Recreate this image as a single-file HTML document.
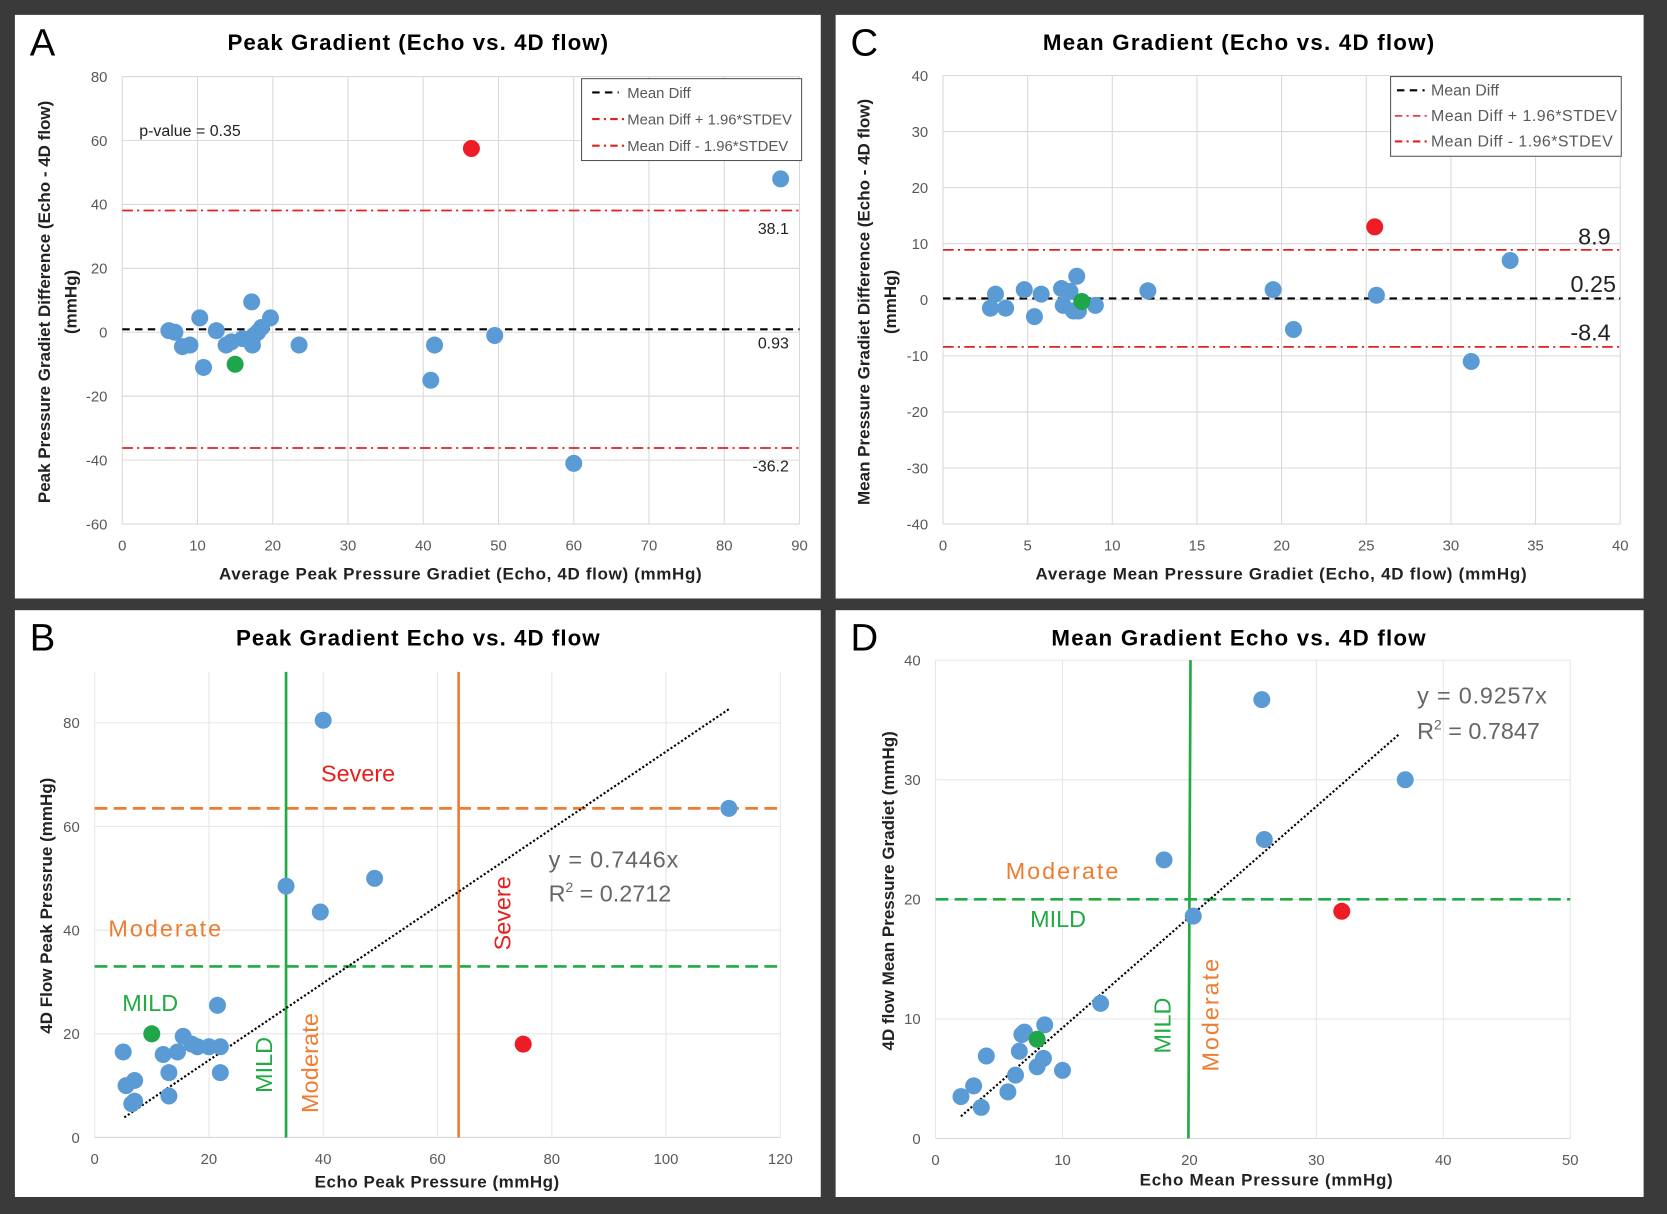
<!DOCTYPE html>
<html><head><meta charset="utf-8">
<style>
html,body{margin:0;padding:0;background:#3a3a3a;}
svg{display:block;font-family:"Liberation Sans",sans-serif;}
</style></head>
<body>
<svg id="fig" width="1667" height="1214" viewBox="0 0 1568 1142" preserveAspectRatio="none" xmlns="http://www.w3.org/2000/svg">
<rect x="0" y="0" width="1568" height="1142" fill="#3a3a3a"/>
<rect x="14" y="14" width="758" height="549" fill="#fff"/>
<rect x="786" y="14" width="760" height="549" fill="#fff"/>
<rect x="14" y="574" width="758" height="552" fill="#fff"/>
<rect x="786" y="574" width="760" height="552" fill="#fff"/>
<g id="layer"></g>
</svg>
<script>
// Panel A data
const aX=[6.2,7,8,9,10.3,10.8,12.5,13.8,14.5,16,17.2,17.3,17.5,18,18.5,19.7,23.5,41,41.5,49.5,60,87.5];
const aY=[0.5,0,-4.5,-4,4.5,-11,0.5,-4,-3,-2,9.5,-4,-1,0,1.5,4.5,-4,-15,-4,-1,-41,48];
const aRed=[46.4,57.5], aGreen=[15,-10];
const aLines=[0.93,38.1,-36.2];
const aXTicks=[0,10,20,30,40,50,60,70,80,90];
const aYTicks=[-60,-40,-20,0,20,40,60,80];
// Panel C data
const cX=[2.8,3.1,3.7,4.8,5.4,5.8,7,7.1,7.5,7.7,7.9,8,9,12.1,19.5,20.7,25.6,31.2,33.5];
const cY=[-1.5,1,-1.5,1.8,-3,1,2,-1,1.5,-2,4.2,-2,-1,1.6,1.8,-5.3,0.8,-11,7];
const cRed=[25.5,13], cGreen=[8.2,-0.3];
const cLines=[0.25,8.9,-8.4];
const cXTicks=[0,5,10,15,20,25,30,35,40];
const cYTicks=[-40,-30,-20,-10,0,10,20,30,40];
// Panel B data
const bX=[5,5.5,6.5,7,7,12,13,13,14.5,15.5,17,18,20,21.5,22,22,33.5,39.5,40,49,111];
const bY=[16.5,10,6.5,11,7,16,12.5,8,16.5,19.5,18,17.5,17.5,25.5,17.5,12.5,48.5,43.5,80.5,50,63.5];
const bRed=[75,18], bGreen=[10,20];
const bSlope=0.7446, bFit=[5.2,111];
const bXTicks=[0,20,40,60,80,100,120];
const bYTicks=[0,20,40,60,80];
// Panel D data
const dX=[2,3,3.6,4,5.7,6.3,6.6,6.8,7,8,8.5,8.6,10,13,18,20.3,25.7,25.9,37];
const dY=[3.5,4.4,2.6,6.9,3.9,5.3,7.3,8.7,8.9,6,6.7,9.5,5.7,11.3,23.3,18.6,36.7,25,30];
const dRed=[32,19], dGreen=[8,8.3];
const dSlope=0.9257, dFit=[2,36.5];
const dXTicks=[0,10,20,30,40,50];
const dYTicks=[0,10,20,30,40];

const NS="http://www.w3.org/2000/svg";
const L=document.getElementById('layer');
function el(tag,attrs,name,txt){const e=document.createElementNS(NS,tag);for(const k in attrs)e.setAttribute(k,attrs[k]);


if(txt!==undefined)e.textContent=txt;L.appendChild(e);return e;}
function scale(d0,d1,p0,p1){return v=>p0+(v-d0)*(p1-p0)/(d1-d0);}
function text(x,y,s,opt,name){return el('text',Object.assign({x:x,y:y,'font-size':14,fill:'#595959'},opt||{}),name,s);}

function axes(sx,sy,xt,yt,x0,x1,y0,y1,prefix,gridColor){
  yt.forEach(v=>{el('line',{x1:x0,x2:x1,y1:sy(v),y2:sy(v),stroke:gridColor,'stroke-width':1},prefix+'-y-grid');
    text(x0-14,sy(v)+5,String(v),{'text-anchor':'end'},prefix+'-y-tick');});
  xt.forEach(v=>{el('line',{x1:sx(v),x2:sx(v),y1:y0,y2:y1,stroke:gridColor,'stroke-width':1},prefix+'-x-grid');
    text(sx(v),y1+25,String(v),{'text-anchor':'middle'},prefix+'-x-tick');});
}
function dots(sx,sy,xs,ys,prefix){xs.forEach((x,i)=>el('circle',{cx:sx(x),cy:sy(ys[i]),r:8,fill:'#5b9bd5'},prefix+'-point'));}
function dot(sx,sy,p,c,name){el('circle',{cx:sx(p[0]),cy:sy(p[1]),r:8,fill:c},name);}
const TB={fill:'#000','font-size':21,'font-weight':'bold','text-anchor':'middle'};

// ===== Panel A =====
{const sx=scale(0,90,115,752), sy=scale(-60,80,493,72);
axes(sx,sy,aXTicks,aYTicks,115,752,72,493,'a','#d9d9d9');
el('line',{x1:115,x2:752,y1:sy(aLines[0]),y2:sy(aLines[0]),stroke:'#000','stroke-width':2,'stroke-dasharray':'7,5'},'a-mean-diff-line');
[1,2].forEach(i=>el('line',{x1:115,x2:752,y1:sy(aLines[i]),y2:sy(aLines[i]),stroke:'#e02020','stroke-width':1.6,'stroke-dasharray':'10,4,2,4'},'a-limit-line'));
dots(sx,sy,aX,aY,'a');dot(sx,sy,aRed,'#ee1c24','a-red-point');dot(sx,sy,aGreen,'#1fa64a','a-green-point');
text(742,sy(aLines[0])+18,String(aLines[0]),{'text-anchor':'end',fill:'#222',"font-size":15},'a-mean-label');
text(742,sy(aLines[1])+22,String(aLines[1]),{'text-anchor':'end',fill:'#222',"font-size":15},'a-upper-label');
text(742,sy(aLines[2])+22,String(aLines[2]),{'text-anchor':'end',fill:'#222',"font-size":15},'a-lower-label');
text(131,128,'p-value = 0.35',{fill:'#222','font-size':15},'a-p-value');
el('rect',{x:547,y:74,width:207,height:77,fill:'#fff',stroke:'#555','stroke-width':1},'a-legend');
el('line',{x1:557,x2:582,y1:87,y2:87,stroke:'#000','stroke-width':2,'stroke-dasharray':'7,5'},'a-legend-mean-swatch');
el('line',{x1:557,x2:588,y1:112,y2:112,stroke:'#e02020','stroke-width':2,'stroke-dasharray':'7,4,2,4'},'a-legend-upper-swatch');
el('line',{x1:557,x2:588,y1:137,y2:137,stroke:'#e02020','stroke-width':2,'stroke-dasharray':'7,4,2,4'},'a-legend-lower-swatch');
text(590,92,'Mean Diff',{'font-size':14},'a-legend-mean');
text(590,117,'Mean Diff + 1.96*STDEV',{'font-size':14},'a-legend-upper');
text(590,142,'Mean Diff - 1.96*STDEV',{'font-size':14},'a-legend-lower');
text(393,47,'Peak Gradient (Echo vs. 4D flow)',Object.assign({textLength:358},TB),'a-title');
text(28,52,'A',{fill:'#000','font-size':36},'a-panel-letter');
text(433,545,'Average Peak Pressure Gradiet (Echo, 4D flow) (mmHg)',{'text-anchor':'middle',fill:'#222','font-size':16,'font-weight':'bold',textLength:454},'a-x-axis-title');
el('text',{x:0,y:0,transform:'translate(47,284) rotate(-90)','text-anchor':'middle','font-size':16,'font-weight':'bold',fill:'#222'},'a-y-axis-title','Peak Pressure Gradiet Difference (Echo - 4D flow)');
el('text',{x:0,y:0,transform:'translate(72,284) rotate(-90)','text-anchor':'middle','font-size':16,'font-weight':'bold',fill:'#222'},'a-y-axis-unit','(mmHg)');
}
// ===== Panel C =====
{const sx=scale(0,40,887,1524), sy=scale(-40,40,493,71);
axes(sx,sy,cXTicks,cYTicks,887,1524,71,493,'c','#d9d9d9');
el('line',{x1:887,x2:1524,y1:sy(cLines[0]),y2:sy(cLines[0]),stroke:'#000','stroke-width':2,'stroke-dasharray':'7,5'},'c-mean-diff-line');
[1,2].forEach(i=>el('line',{x1:887,x2:1524,y1:sy(cLines[i]),y2:sy(cLines[i]),stroke:'#e02020','stroke-width':1.6,'stroke-dasharray':'10,4,2,4'},'c-limit-line'));
dots(sx,sy,cX,cY,'c');dot(sx,sy,cRed,'#ee1c24','c-red-point');dot(sx,sy,cGreen,'#1fa64a','c-green-point');
text(1515,sy(cLines[1])-5,String(cLines[1]),{'text-anchor':'end',fill:'#222','font-size':22},'c-upper-label');
text(1520,sy(cLines[0])-6,String(cLines[0]),{'text-anchor':'end',fill:'#222','font-size':22},'c-mean-label');
text(1515,sy(cLines[2])-6,String(cLines[2]),{'text-anchor':'end',fill:'#222','font-size':22},'c-lower-label');
el('rect',{x:1308,y:72,width:217,height:75,fill:'#fff',stroke:'#555','stroke-width':1},'c-legend');
el('line',{x1:1314,x2:1340,y1:85,y2:85,stroke:'#000','stroke-width':2,'stroke-dasharray':'7,5'},'c-legend-mean-swatch');
el('line',{x1:1312,x2:1344,y1:109,y2:109,stroke:'#e02020','stroke-width':1.5,'stroke-dasharray':'7,4,2,4'},'c-legend-upper-swatch');
el('line',{x1:1312,x2:1344,y1:133,y2:133,stroke:'#e02020','stroke-width':2,'stroke-dasharray':'7,4,2,4'},'c-legend-lower-swatch');
text(1346,90,'Mean Diff',{'font-size':15},'c-legend-mean');
text(1346,114,'Mean Diff + 1.96*STDEV',{'font-size':15,textLength:175},'c-legend-upper');
text(1346,138,'Mean Diff - 1.96*STDEV',{'font-size':15,textLength:171},'c-legend-lower');
text(1165,47,'Mean Gradient (Echo vs. 4D flow)',Object.assign({textLength:368},TB),'c-title');
text(800,52,'C',{fill:'#000','font-size':36},'c-panel-letter');
text(1205,545,'Average Mean Pressure Gradiet (Echo, 4D flow) (mmHg)',{'text-anchor':'middle',fill:'#222','font-size':16,'font-weight':'bold',textLength:462},'c-x-axis-title');
el('text',{x:0,y:0,transform:'translate(818,284) rotate(-90)','text-anchor':'middle','font-size':16,'font-weight':'bold',fill:'#222'},'c-y-axis-title','Mean Pressure Gradiet Difference (Echo - 4D flow)');
el('text',{x:0,y:0,transform:'translate(843,284) rotate(-90)','text-anchor':'middle','font-size':16,'font-weight':'bold',fill:'#222'},'c-y-axis-unit','(mmHg)');
}
// ===== Panel B =====
{const sx=scale(0,120,89,734), sy=scale(0,80,1070,680);
axes(sx,sy,bXTicks,bYTicks,89,734,632,1070,'b','#e6e6e6');
el('line',{x1:89,x2:734,y1:1070,y2:1070,stroke:'#d9d9d9','stroke-width':1},'b-x-axis-line');
el('line',{x1:89,x2:734,y1:sy(63.5),y2:sy(63.5),stroke:'#ed7d31','stroke-width':2.5,'stroke-dasharray':'12,6'},'b-severe-horizontal-line');
el('line',{x1:89,x2:734,y1:sy(33),y2:sy(33),stroke:'#22aa44','stroke-width':2.5,'stroke-dasharray':'12,6'},'b-mild-horizontal-line');
el('line',{x1:sx(33.5),x2:sx(33.5),y1:632,y2:1070,stroke:'#22aa44','stroke-width':2.5},'b-mild-vertical-line');
el('line',{x1:sx(63.7),x2:sx(63.7),y1:632,y2:1070,stroke:'#ed7d31','stroke-width':2.5},'b-severe-vertical-line');
el('line',{x1:sx(bFit[0]),y1:sy(bSlope*bFit[0]),x2:sx(bFit[1]),y2:sy(bSlope*bFit[1]),stroke:'#000','stroke-width':2,'stroke-dasharray':'2,2'},'b-trendline');
dots(sx,sy,bX,bY,'b');dot(sx,sy,bRed,'#ee1c24','b-red-point');dot(sx,sy,bGreen,'#1fa64a','b-green-point');
text(516,816,'y = 0.7446x',{'font-size':22,fill:'#666',textLength:122},'b-equation');
const r=text(516,848,'',{'font-size':22,fill:'#666'},'b-r-squared');
r.innerHTML='R<tspan dy="-9" font-size="13">2</tspan><tspan dy="9"> = 0.2712</tspan>';
text(302,735,'Severe',{'font-size':22,fill:'#e8201c'},'b-severe-label');
text(102,881,'Moderate',{'font-size':22,fill:'#ed7d31',textLength:106},'b-moderate-label');
text(115,951,'MILD',{'font-size':22,fill:'#22aa44'},'b-mild-label');
el('text',{x:0,y:0,transform:'translate(480,894) rotate(-90)','font-size':22,fill:'#e8201c'},'b-severe-vertical-label','Severe');
el('text',{x:0,y:0,transform:'translate(299,1047) rotate(-90)','font-size':22,fill:'#ed7d31',textLength:94},'b-moderate-vertical-label','Moderate');
el('text',{x:0,y:0,transform:'translate(256,1028) rotate(-90)','font-size':22,fill:'#22aa44'},'b-mild-vertical-label','MILD');
text(393,607,'Peak Gradient Echo vs. 4D flow',Object.assign({textLength:342},TB),'b-title');
text(28,612,'B',{fill:'#000','font-size':36},'b-panel-letter');
text(411,1117,'Echo Peak Pressure (mmHg)',{'text-anchor':'middle',fill:'#222','font-size':16,'font-weight':'bold',textLength:230},'b-x-axis-title');
el('text',{x:0,y:0,transform:'translate(49,852) rotate(-90)','text-anchor':'middle','font-size':16,'font-weight':'bold',fill:'#222'},'b-y-axis-title','4D Flow Peak Pressrue (mmHg)');
}
// ===== Panel D =====
{const sx=scale(0,50,880,1477), sy=scale(0,40,1071,621);
axes(sx,sy,dXTicks,dYTicks,880,1477,621,1071,'d','#e6e6e6');
el('line',{x1:880,x2:1477,y1:1071,y2:1071,stroke:'#d9d9d9','stroke-width':1},'d-x-axis-line');
el('line',{x1:880,x2:1477,y1:sy(20),y2:sy(20),stroke:'#22aa44','stroke-width':2.5,'stroke-dasharray':'12,6'},'d-mild-horizontal-line');
el('line',{x1:sx(20)+1,x2:sx(20)-1,y1:621,y2:1071,stroke:'#22aa44','stroke-width':2.5},'d-mild-vertical-line');
el('line',{x1:sx(dFit[0]),y1:sy(dSlope*dFit[0]),x2:sx(dFit[1]),y2:sy(dSlope*dFit[1]),stroke:'#000','stroke-width':2,'stroke-dasharray':'2,2'},'d-trendline');
dots(sx,sy,dX,dY,'d');dot(sx,sy,dRed,'#ee1c24','d-red-point');dot(sx,sy,dGreen,'#1fa64a','d-green-point');
text(1333,662,'y = 0.9257x',{'font-size':22,fill:'#666',textLength:122},'d-equation');
const r=text(1333,695,'',{'font-size':22,fill:'#666'},'d-r-squared');
r.innerHTML='R<tspan dy="-9" font-size="13">2</tspan><tspan dy="9"> = 0.7847</tspan>';
text(946,827,'Moderate',{'font-size':22,fill:'#ed7d31',textLength:106},'d-moderate-label');
text(969,872,'MILD',{'font-size':22,fill:'#22aa44'},'d-mild-label');
el('text',{x:0,y:0,transform:'translate(1101,991) rotate(-90)','font-size':22,fill:'#22aa44'},'d-mild-vertical-label','MILD');
el('text',{x:0,y:0,transform:'translate(1146,1008) rotate(-90)','font-size':22,fill:'#ed7d31',textLength:106},'d-moderate-vertical-label','Moderate');
text(1165,607,'Mean Gradient Echo vs. 4D flow',Object.assign({textLength:352},TB),'d-title');
text(800,612,'D',{fill:'#000','font-size':36},'d-panel-letter');
text(1191,1115,'Echo Mean Pressure (mmHg)',{'text-anchor':'middle',fill:'#222','font-size':16,'font-weight':'bold',textLength:238},'d-x-axis-title');
el('text',{x:0,y:0,transform:'translate(841,838) rotate(-90)','text-anchor':'middle','font-size':16,'font-weight':'bold',fill:'#222'},'d-y-axis-title','4D flow Mean Pressure Gradiet (mmHg)');
}
</script>
</body></html>
